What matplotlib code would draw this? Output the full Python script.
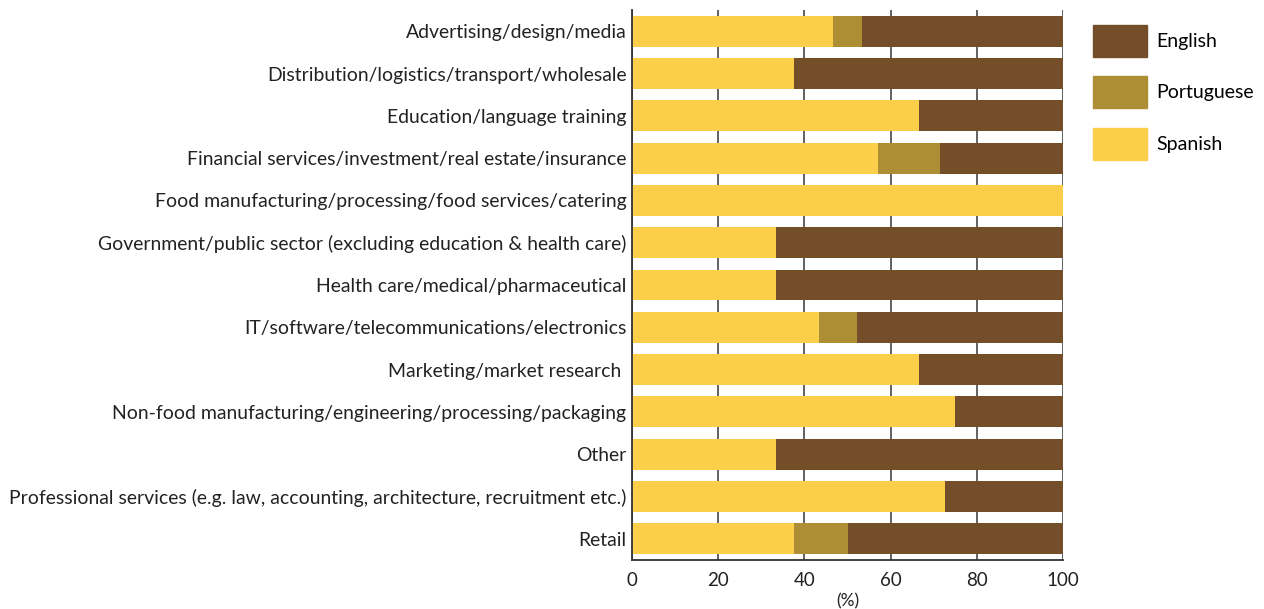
import matplotlib.pyplot as plt
from matplotlib.patches import Patch
import numpy as np

plt.rcParams['font.family'] = ['Lato', 'DejaVu Sans']

categories = [
    'Advertising/design/media',
    'Distribution/logistics/transport/wholesale',
    'Education/language training',
    'Financial services/investment/real estate/insurance',
    'Food manufacturing/processing/food services/catering',
    'Government/public sector (excluding education & health care)',
    'Health care/medical/pharmaceutical',
    'IT/software/telecommunications/electronics',
    'Marketing/market research ',
    'Non-food manufacturing/engineering/processing/packaging',
    'Other',
    'Professional services (e.g. law, accounting, architecture, recruitment etc.)',
    'Retail',
]
spanish    = [46.7, 37.5, 66.7, 57.1, 100.0, 33.3, 33.3, 43.5, 66.7, 75.0, 33.3, 72.7, 37.5]
portuguese = [6.7, 0.0, 0.0, 14.3, 0.0, 0.0, 0.0, 8.7, 0.0, 0.0, 0.0, 0.0, 12.5]
english    = [46.6, 62.5, 33.3, 28.6, 0.0, 66.7, 66.7, 47.8, 33.3, 25.0, 66.7, 27.3, 50.0]

c_spa = '#fccf4a'
c_por = '#ad8e35'
c_eng = '#744d29'

fig = plt.figure(figsize=(12.64, 6.09), dpi=100)
ax = fig.add_axes([0.5, 0.0805, 0.341, 0.903])

y = np.arange(len(categories))
spa = np.array(spanish)
por = np.array(portuguese)
eng = np.array(english)
h = 0.73
ax.barh(y, spa, height=h, color=c_spa, zorder=2)
ax.barh(y, por, left=spa, height=h, color=c_por, zorder=2)
ax.barh(y, eng, left=spa + por, height=h, color=c_eng, zorder=2)

ax.set_xlim(0, 100)
ax.set_ylim(len(categories) - 0.5, -0.5)
ax.set_xticks([0, 20, 40, 60, 80, 100])
ax.set_yticks(y)
ax.set_yticklabels(categories, fontsize=13.95, color='#222222')
ax.tick_params(axis='x', labelsize=13.5, colors='#222222', length=0, pad=9)
ax.tick_params(axis='y', length=0, pad=4)
ax.xaxis.grid(True, color='#555555', linewidth=1.3, zorder=0)
ax.set_axisbelow(True)
for s in ['top', 'right']:
    ax.spines[s].set_visible(False)
for s in ['left', 'bottom']:
    ax.spines[s].set_color('#333333')
    ax.spines[s].set_linewidth(1.3)
ax.set_xlabel('(%)', fontsize=12.5, color='#222222', labelpad=3)

handles = [Patch(color=c_eng), Patch(color=c_por), Patch(color=c_spa)]
fig.legend(handles, ['English', 'Portuguese', 'Spanish'], loc='upper left',
           bbox_to_anchor=(0.8585, 0.972), frameon=False, fontsize=14,
           handlelength=2.78, handleheight=2.15, labelspacing=1.0,
           handletextpad=0.5, borderaxespad=0)

fig.savefig('out.png', dpi=100)
